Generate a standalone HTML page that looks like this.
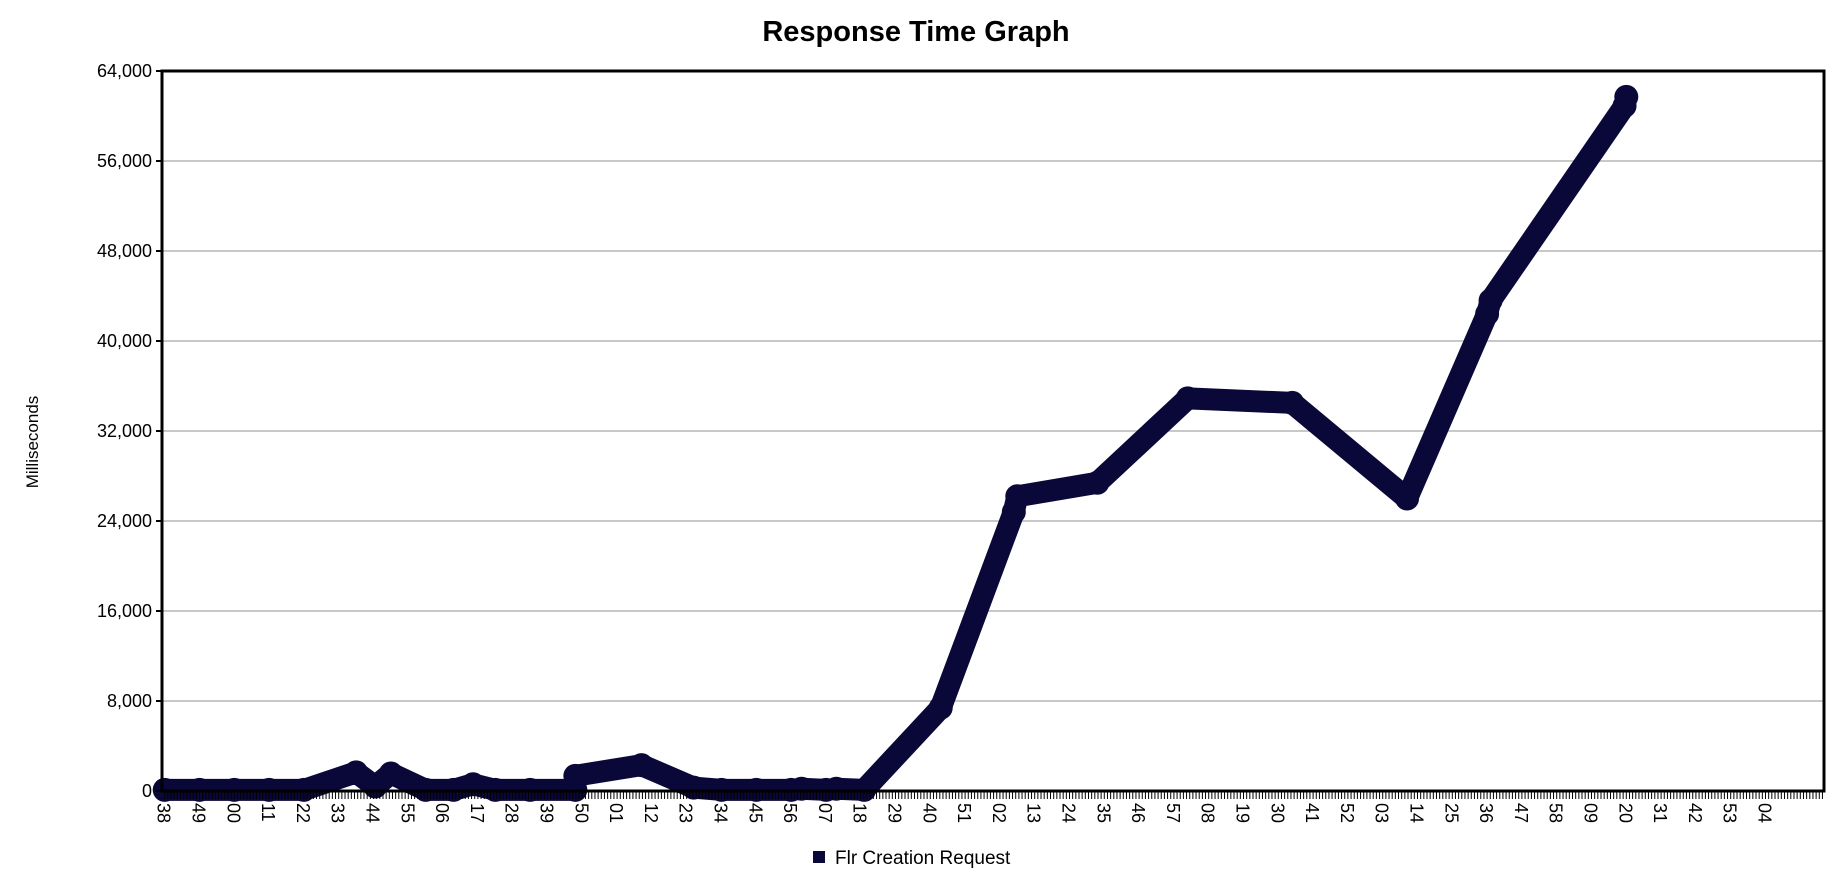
<!DOCTYPE html>
<html><head><meta charset="utf-8"><style>
html,body{margin:0;padding:0;background:#fff;width:1832px;height:892px;overflow:hidden}
svg{display:block;font-family:"Liberation Sans",sans-serif}
</style></head><body>
<svg id="chart" width="1832" height="892">
<text x="916" y="41" text-anchor="middle" font-size="29" font-weight="bold" fill="#000">Response Time Graph</text>
<text transform="translate(38,442) rotate(-90)" text-anchor="middle" font-size="17" fill="#000">Milliseconds</text>
<g id="grid"></g><g id="series"></g><g id="axes"></g>
<g>
<rect x="813" y="851" width="12" height="12" fill="#0a0838"/>
<text x="835" y="864" font-size="19" fill="#000">Flr Creation Request</text>
</g>
</svg>
<script>
const xLabels=["38","49","00","11","22","33","44","55","06","17","28","39","50","01","12","23","34","45","56","07","18","29","40","51","02","13","24","35","46","57","08","19","30","41","52","03","14","25","36","47","58","09","20","31","42","53","04"];
const yTicks=[0,8000,16000,24000,32000,40000,48000,56000,64000];
const pointX=[0,1,2,3,4,5.5,6.05,6.5,7.5,8.3,8.86,9.5,10.5,11.8,11.8,13.7,15.2,16,17,18,18.3,19,19.3,20.1,22.3,24.4,24.5,26.8,29.4,32.4,35.7,38.0,38.1,41.95,42.0];
const pointY=[100,100,100,100,100,1660,400,1560,100,100,600,100,100,100,1350,2300,300,100,100,100,200,100,200,100,7400,24800,26200,27400,34900,34500,26000,42400,43600,60900,61700];
const NS="http://www.w3.org/2000/svg";
const L=162,R=1824,T=71,B=791,X0=164.7,STEP=34.8;
function sx(i){return X0+i*STEP;}
function sy(v){return B-(v/64000)*(B-T);}
function mk(tag,attrs,parent){const e=document.createElementNS(NS,tag);for(const k in attrs)e.setAttribute(k,attrs[k]);parent.appendChild(e);return e;}
const grid=document.getElementById('grid'),axes=document.getElementById('axes'),series=document.getElementById('series');
yTicks.forEach(v=>{
  if(v>0&&v<64000){const g=mk('line',{x1:L,x2:R,y1:sy(v),y2:sy(v),stroke:'#c8c8c8','stroke-width':2},grid);
  
  }
  mk('line',{x1:L-6,x2:L,y1:sy(v),y2:sy(v),stroke:'#000','stroke-width':2},axes);
  const t=mk('text',{x:L-10,y:sy(v)+6,'text-anchor':'end','font-size':18,fill:'#000'},axes);
  t.textContent=v.toLocaleString('en-US');
  
  
});
for(let i=0;X0+i*STEP/11<=R;i++){const x=X0+i*STEP/11;mk('line',{x1:x,x2:x,y1:B,y2:B+8,stroke:'#000','stroke-width':1},axes);}
xLabels.forEach((s,i)=>{
  const t=mk('text',{transform:`translate(${sx(i)-7},${B+12}) rotate(90)`,'font-size':18,fill:'#000'},axes);
  t.textContent=s;
  
  
});
const pts=pointX.map((x,i)=>sx(x)+','+sy(pointY[i])).join(' ');
const pl=mk('polyline',{points:pts,fill:'none',stroke:'#0a0838','stroke-width':22,'stroke-linejoin':'round','stroke-linecap':'round'},series);


pointX.forEach((x,i)=>{const c=mk('circle',{cx:sx(x),cy:sy(pointY[i]),r:12,fill:'#0a0838'},series);

});
const fr=mk('rect',{x:L,y:T,width:R-L,height:B-T,fill:'none',stroke:'#000','stroke-width':3},axes);


</script>
</body></html>
